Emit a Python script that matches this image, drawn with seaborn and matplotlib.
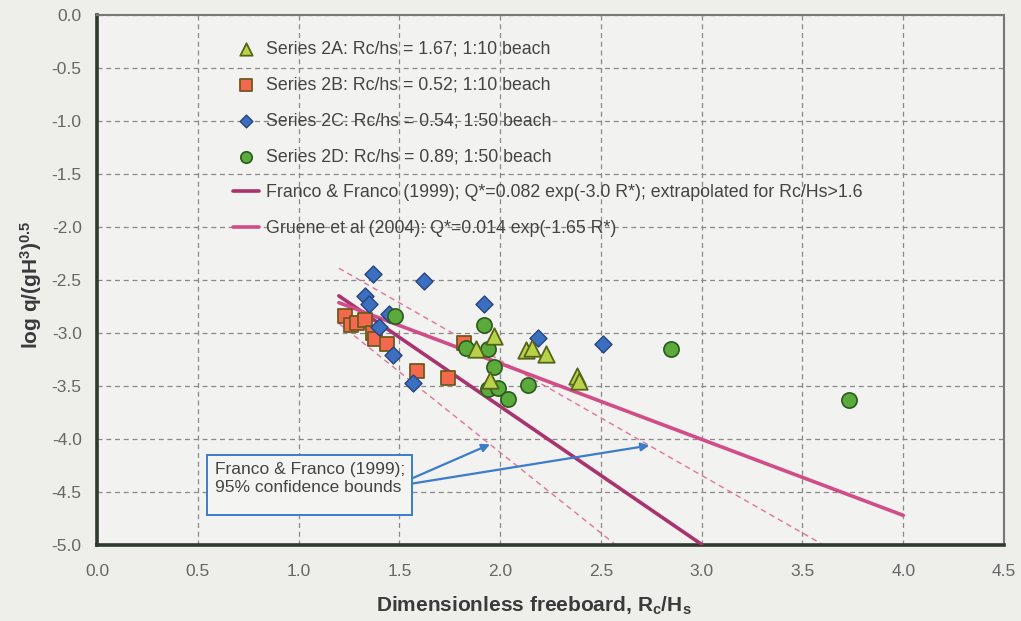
import numpy as np
import pandas as pd
import matplotlib
matplotlib.use("Agg")
import matplotlib.pyplot as plt
from matplotlib.patches import Rectangle
import seaborn as sns

# ---- measured overtopping data (x = Rc/Hs, y = log q/(gH^3)^0.5) ----
s2a_x = [1.97, 1.88, 1.95, 2.13, 2.16, 2.23, 2.38, 2.39]
s2a_y = [-3.03, -3.15, -3.44, -3.16, -3.14, -3.20, -3.41, -3.45]

s2b_x = [1.23, 1.26, 1.29, 1.33, 1.37, 1.38, 1.44, 1.59, 1.74, 1.82]
s2b_y = [-2.84, -2.92, -2.91, -2.88, -3.00, -3.06, -3.10, -3.36, -3.42, -3.09]

s2c_x = [1.37, 1.62, 1.33, 1.35, 1.45, 1.40, 1.47, 1.57, 1.92, 2.19, 2.51]
s2c_y = [-2.44, -2.51, -2.65, -2.73, -2.82, -2.94, -3.21, -3.47, -2.73, -3.05, -3.10]

s2d_x = [1.48, 1.92, 1.83, 1.94, 1.97, 1.94, 1.99, 2.04, 2.14, 2.85, 3.73]
s2d_y = [-2.84, -2.92, -3.14, -3.15, -3.32, -3.53, -3.52, -3.62, -3.49, -3.15, -3.63]

series_labels = [
    "Series 2A: Rc/hs = 1.67; 1:10 beach",
    "Series 2B: Rc/hs = 0.52; 1:10 beach",
    "Series 2C: Rc/hs = 0.54; 1:50 beach",
    "Series 2D: Rc/hs = 0.89; 1:50 beach",
]

# ---- empirical formulae  Q* = a exp(-b R*) ----
franco_a, franco_b = 0.082, 3.0
franco_b_bounds = [2.5, 3.5]          # 95% confidence bounds on b
gruene_a, gruene_b = 0.014, 1.65
franco_range = [1.2, 3.0]
gruene_range = [1.2, 4.0]
bounds_range = [1.2, 4.0]
franco_label = "Franco & Franco (1999); Q*=0.082 exp(-3.0 R*); extrapolated for Rc/Hs>1.6"
gruene_label = "Gruene et al (2004): Q*=0.014 exp(-1.65 R*)"

x_ticks = [0.0, 0.5, 1.0, 1.5, 2.0, 2.5, 3.0, 3.5, 4.0, 4.5]
y_ticks = [0.0, -0.5, -1.0, -1.5, -2.0, -2.5, -3.0, -3.5, -4.0, -4.5, -5.0]


def log_q(a, b, r):
    r = np.asarray(r, dtype=float)
    return np.log10(a) - b * r / np.log(10)


sns.set_theme(style="white")
plt.rcParams["font.family"] = ["Liberation Sans", "DejaVu Sans"]
plt.rcParams["mathtext.fontset"] = "custom"
plt.rcParams["mathtext.rm"] = "Liberation Sans:bold"
plt.rcParams["mathtext.bf"] = "Liberation Sans:bold"
plt.rcParams["mathtext.default"] = "bf"

bg = "#eeeeeb"
fig = plt.figure(figsize=(10.21, 6.21), dpi=100, facecolor=bg)
ax = fig.add_axes([97 / 1021, 1 - 545 / 621, 907 / 1021, 530 / 621])
ax.set_facecolor("#f2f2f0")

# confidence bounds (thin dashed)
for b in franco_b_bounds:
    sns.lineplot(x=bounds_range, y=log_q(franco_a, b, bounds_range), ax=ax,
                 color="#e2739e", lw=1.0, linestyle=(0, (4, 3)), zorder=2)

# fitted formulae
sns.lineplot(x=franco_range, y=log_q(franco_a, franco_b, franco_range), ax=ax,
             color="#a8336f", lw=2.6, label=franco_label, zorder=3)
sns.lineplot(x=gruene_range, y=log_q(gruene_a, gruene_b, gruene_range), ax=ax,
             color="#d24c88", lw=2.6, label=gruene_label, zorder=3)

# measured data
sns.scatterplot(x=s2b_x, y=s2b_y, ax=ax, marker="s", s=115, color="#f4694e",
                edgecolor="#6e5a1e", linewidth=1.3, label=series_labels[1], zorder=4)
sns.scatterplot(x=s2c_x, y=s2c_y, ax=ax, marker="D", s=75, color="#3b6fc2",
                edgecolor="#27457a", linewidth=1.0, label=series_labels[2], zorder=5)
sns.scatterplot(x=s2d_x, y=s2d_y, ax=ax, marker="o", s=120, color="#5aaa3c",
                edgecolor="#2c5a1e", linewidth=1.2, label=series_labels[3], zorder=5)
sns.scatterplot(x=s2a_x, y=s2a_y, ax=ax, marker="^", s=140, color="#b8d24a",
                edgecolor="#56641a", linewidth=1.3, label=series_labels[0], zorder=6)

ax.set_xlim(0, 4.5)
ax.set_ylim(-5, 0)
ax.set_xticks(x_ticks)
ax.set_yticks(y_ticks)
ax.set_xticklabels([f"{v:.1f}" for v in x_ticks])
ax.set_yticklabels([f"{v:.1f}" for v in y_ticks])
ax.tick_params(axis="x", length=0, pad=14, labelsize=12.5, labelcolor="#666666")
ax.tick_params(axis="y", length=0, pad=11, labelsize=12.5, labelcolor="#666666")

ax.grid(True, color="#8a8a8a", lw=0.9, linestyle=(0, (4, 3)))
ax.set_axisbelow(True)

for side in ["left", "bottom"]:
    ax.spines[side].set_color("#2e3a2e")
    ax.spines[side].set_linewidth(2.6)
for side in ["top", "right"]:
    ax.spines[side].set_color("#777777")
    ax.spines[side].set_linewidth(1.5)
    ax.spines[side].set_visible(True)

ax.set_xlabel(r"Dimensionless freeboard, R$_c$/H$_s$", fontsize=15,
              fontweight="bold", color="#3a3a3a")
ax.xaxis.set_label_coords((534 - 97) / 907, -0.093)
ax.set_ylabel(r"log q/(gH$^3$)$^{0.5}$", fontsize=15,
              fontweight="bold", color="#3a3a3a")
ax.yaxis.set_label_coords(-0.058, 0.49)

# legend in the order: 2A, 2B, 2C, 2D, Franco, Gruene
handles, labels = ax.get_legend_handles_labels()
order = [series_labels[0], series_labels[1], series_labels[2], series_labels[3],
         franco_label, gruene_label]
hmap = dict(zip(labels, handles))
leg = ax.legend([hmap[k] for k in order], order, loc="upper left",
                bbox_to_anchor=(0.142, 0.965), frameon=False, fontsize=12.8,
                labelspacing=1.06, handlelength=1.45, handletextpad=0.4,
                markerscale=0.75, borderaxespad=0)
for t in leg.get_texts():
    t.set_color("#444444")

# annotation box with arrows to the confidence bounds
arrow_x = [1.95, 2.74]
arrow_y = [log_q(franco_a, franco_b_bounds[1], arrow_x[0]),
           log_q(franco_a, franco_b_bounds[0], arrow_x[1])]
blue = "#3d7cc9"
ax.add_patch(Rectangle((0.546, -4.72), 1.017, 0.57, facecolor="#f4f4f2",
                       edgecolor=blue, lw=1.4, zorder=7))
ax.text(0.585, -4.375, "Franco & Franco (1999);\n95% confidence bounds",
        fontsize=12.5, color="#444444", ha="left", va="center", zorder=8,
        linespacing=1.25)
for (tx, ty), sy in zip(zip(arrow_x, arrow_y), [-4.37, -4.42]):
    ax.annotate("", xy=(tx, ty), xytext=(1.565, sy), zorder=8,
                arrowprops=dict(arrowstyle="-|>", color=blue, lw=1.6,
                                mutation_scale=12, shrinkA=0, shrinkB=0))

fig.savefig("out.png", dpi=100, facecolor=bg)
